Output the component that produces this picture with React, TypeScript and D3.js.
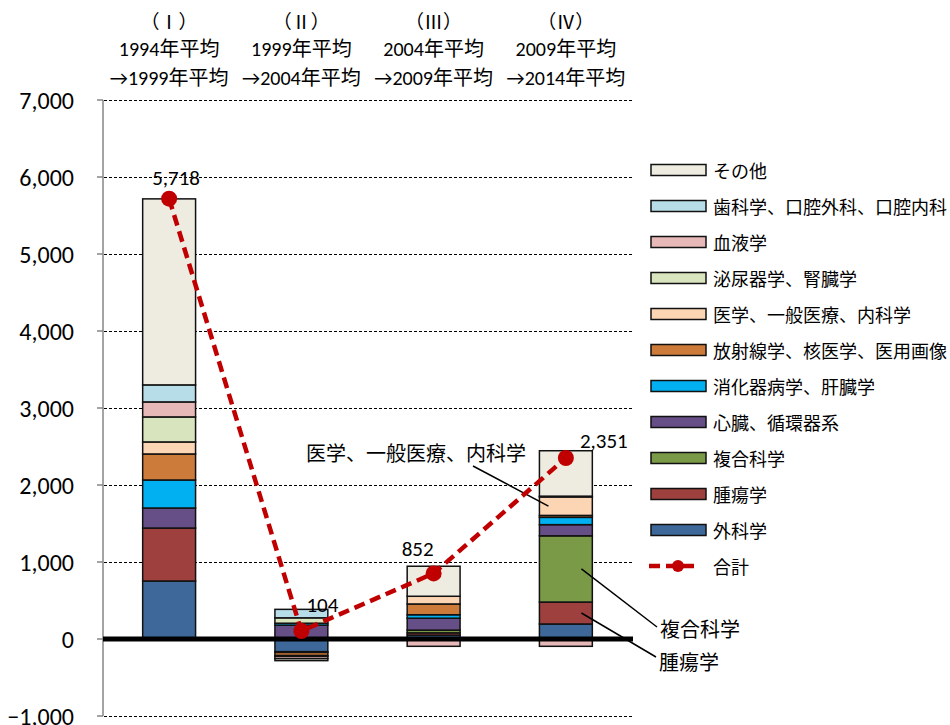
import * as d3 from "d3";

const periods = ["I", "II", "III", "IV"];
const headerRoman = ["（Ⅰ）", "（Ⅱ）", "（Ⅲ）", "（Ⅳ）"];
const headerFrom = ["1994年平均", "1999年平均", "2004年平均", "2009年平均"];
const headerTo = ["→1999年平均", "→2004年平均", "→2009年平均", "→2014年平均"];

// stacked series, bottom to top
const fields = [
  "外科学", "腫瘍学", "複合科学", "心臓、循環器系", "消化器病学、肝臓学",
  "放射線学、核医学、医用画像", "医学、一般医療、内科学", "泌尿器学、腎臓学",
  "血液学", "歯科学、口腔外科、口腔内科", "その他",
];
const surgery = [753, -165, 50, 195];
const oncology = [688, -10, 30, 285];
const multidisc = [0, 0, 35, 860];
const cardio = [260, 180, 155, 145];
const gastro = [364, 25, 45, 95];
const radiology = [338, -40, 140, 25];
const medicine = [156, -10, 100, 240];
const urology = [325, 70, 0, 0];
const hematology = [195, -30, -95, -95];
const dentistry = [221, 110, 0, 10];
const other = [2416, -26, 390, 590];
const totals = [5718, 104, 852, 2351];
const yTicks = [-1000, 0, 1000, 2000, 3000, 4000, 5000, 6000, 7000];

const seriesValues = [surgery, oncology, multidisc, cardio, gastro, radiology, medicine, urology, hematology, dentistry, other];
const colors = ["#3d6899", "#9e413e", "#7b9a48", "#664e86", "#00b0f0", "#cd7b3a", "#fcd5b5", "#d7e4bd", "#e6b9b8", "#b7dee8", "#eeece1"];
const labelOffsets = [[7, -21], [21, -26], [-16, -24], [38, -17]];

const numFont = "Carlito, Calibri, Lato, 'Noto Sans CJK JP', sans-serif";
const jpFont = "'Noto Sans CJK JP', sans-serif";

export default function App() {
  const W = 950, H = 725;
  const y = d3.scaleLinear().domain([-1000, 7000]).range([716, 100]);
  const x = d3.scaleBand().domain(periods).range([103, 632]).paddingInner(0.6).paddingOuter(0.3);
  const bw = x.bandwidth();
  const cx = (p: string) => x(p)! + bw / 2;

  const table = periods.map((p, i) => {
    const row: any = { period: p };
    fields.forEach((f, j) => (row[f] = seriesValues[j][i]));
    return row;
  });
  const stacked = d3.stack<any>().keys(fields).offset(d3.stackOffsetDiverging)(table);

  const line = d3.line<number>().x((_, i) => cx(periods[i])).y(d => y(d));
  const fmt = d3.format(",");

  // leader lines from segments in bar IV
  const seg = (f: string) => {
    const s = stacked[fields.indexOf(f)][3];
    return (y(s[0]) + y(s[1])) / 2;
  };
  const xl = x("IV")!;
  const callouts = [
    { text: "医学、一般医療、内科学", tx: 416, ty: 452, x1: 473, y1: 466, x2: xl + 9, y2: seg("医学、一般医療、内科学") },
    { text: "複合科学", tx: 700, ty: 628, x1: 657, y1: 627, x2: xl + 42, y2: seg("複合科学") },
    { text: "腫瘍学", tx: 689, ty: 661, x1: 656, y1: 657, x2: xl + 42, y2: seg("腫瘍学") },
  ];

  const legendItems = [...fields].reverse();

  return (
    <svg width={W} height={H} style={{ position: "absolute", left: 0, top: 0, background: "#fff" }}>
      {/* headers */}
      {periods.map((p, i) => (
        <g key={p} fontFamily={numFont} fontSize={20} textAnchor="middle" fill="#000">
          <text x={cx(p)} y={20} dominantBaseline="central" fontFamily={jpFont} fontSize={19}>{headerRoman[i]}</text>
          <text x={cx(p)} y={49} dominantBaseline="central">{headerFrom[i]}</text>
          <text x={cx(p)} y={78} dominantBaseline="central">{headerTo[i]}</text>
        </g>
      ))}

      {/* grid */}
      {yTicks.filter(t => t !== 0).map(t => (
        <line key={t} x1={104} x2={632} y1={Math.round(y(t)) + 0.5} y2={Math.round(y(t)) + 0.5} stroke="#000" strokeWidth={1} strokeDasharray="3 2" />
      ))}
      <line x1={103} x2={103} y1={y(7000)} y2={y(-1000)} stroke="#868686" strokeWidth={1.5} />
      {yTicks.map(t => (
        <g key={t}>
          <line x1={97} x2={103} y1={y(t)} y2={y(t)} stroke="#868686" strokeWidth={1.5} />
          <text x={74} y={y(t)} textAnchor="end" dominantBaseline="central" fontFamily={numFont} fontSize={24} fill="#000">{fmt(t)}</text>
        </g>
      ))}

      {/* bars */}
      {stacked.map((s, j) => (
        <g key={s.key} fill={colors[j]}>
          {s.map((d, i) => d[1] - d[0] === 0 ? null : (
            <rect key={i} x={x(periods[i])} width={bw} y={y(Math.max(d[0], d[1]))}
              height={Math.abs(y(d[0]) - y(d[1]))} stroke="#111" strokeWidth={1.5} />
          ))}
        </g>
      ))}

      <line x1={103} x2={633} y1={y(0)} y2={y(0)} stroke="#000" strokeWidth={5} />

      {/* callouts */}
      {callouts.map(c => (
        <g key={c.text}>
          <line x1={c.x1} y1={c.y1} x2={c.x2} y2={c.y2} stroke="#000" strokeWidth={1.5} />
          <text x={c.tx} y={c.ty} textAnchor="middle" dominantBaseline="central" fontFamily={jpFont} fontSize={20} fill="#000">{c.text}</text>
        </g>
      ))}

      {/* total line */}
      <path d={line(totals)!} fill="none" stroke="#c00000" strokeWidth={4.5} strokeDasharray="11 6" />
      {totals.map((t, i) => (
        <g key={i}>
          <circle cx={cx(periods[i])} cy={y(t)} r={8} fill="#c00000" />
          <text x={cx(periods[i]) + labelOffsets[i][0]} y={y(t) + labelOffsets[i][1]} textAnchor="middle"
            dominantBaseline="central" fontFamily={numFont} fontSize={21} fill="#000">{fmt(t)}</text>
        </g>
      ))}

      {/* legend */}
      {legendItems.map((f, k) => {
        const ly = 170 + k * 36;
        return (
          <g key={f}>
            <rect x={651} y={ly - 5.5} width={55} height={11} fill={colors[fields.indexOf(f)]} stroke="#111" strokeWidth={1.5} />
            <text x={713} y={ly} dominantBaseline="central" fontFamily={jpFont} fontSize={18} fill="#000">{f}</text>
          </g>
        );
      })}
      <g>
        <line x1={649} x2={700} y1={566} y2={566} stroke="#c00000" strokeWidth={4.5} strokeDasharray="11 6" />
        <circle cx={678} cy={566} r={6} fill="#c00000" />
        <text x={713} y={566} dominantBaseline="central" fontFamily={jpFont} fontSize={18} fill="#000">合計</text>
      </g>
    </svg>
  );
}
